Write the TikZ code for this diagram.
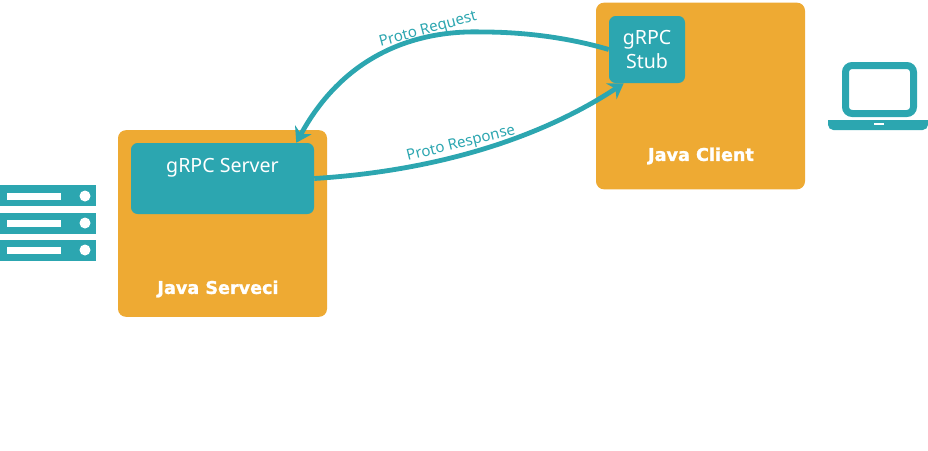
\documentclass[tikz,border=0pt]{standalone}
\usepackage{fontspec}
\setmainfont{Noto Sans}
\newfontfamily\heavyfont{DejaVu Sans Bold}[FakeBold=1.2]
\usetikzlibrary{arrows.meta}
\definecolor{boxorange}{HTML}{EEAA33}
\definecolor{boxteal}{HTML}{2CA6B0}

\begin{document}
\begin{tikzpicture}[x=.75pt,y=-.75pt]
	\tikzstyle{service}=[fill=boxorange,rounded corners=6pt,minimum width=156.75pt,minimum height=140pt,inner sep=0pt];
	\tikzstyle{grpcbox}=[fill=boxteal,rounded corners=5pt,text=white,inner sep=0pt,font=\fontsize{14.7}{18}\selectfont,align=center];
	\tikzstyle{title}=[text=white,font=\heavyfont\fontsize{13.2}{15}\selectfont,inner sep=0pt];
	\tikzstyle{call}=[draw=boxteal,line width=3.6pt,-{Stealth[length=11pt,width=14pt]}];
	\tikzstyle{calltext}=[text=boxteal,font=\fontsize{11.3}{14}\selectfont,inner sep=0pt];
	\tikzstyle{icon}=[fill=boxteal];

	\useasboundingbox (0,0) rectangle (928,450);

	\node[service] (service) at (222.5,223.5) {};
	\node[service] (client)  at (700.5,96)    {};
	\node[grpcbox,minimum width=137.25pt,minimum height=53.25pt] (server) at (222.5,178.5) {};
	\node[grpcbox,minimum width=57pt,minimum height=50.25pt] (stub) at (647,49.5) {gRPC\\Stub};
	\node[text=white,font=\fontsize{14.7}{18}\selectfont,inner sep=0pt] (servertext) at (222.5,168) {gRPC Server};
	\node[title] (servicetext) at (218,289) {Java Serveci};
	\node[title] (clienttext)  at (701,156) {Java Client};

	\draw[call] (stub.west) .. controls (570,38) and (525,32) .. (483,32) .. controls (425,30) and (348,48) .. ([xshift=-13.5pt]server.north east);
	\draw[call] (server.east) .. controls (420,172) and (530,145) .. ([xshift=11.25pt]stub.south west);
	\node[calltext,rotate=15] (requesttext)  at (428,30)  {Proto Request};
	\node[calltext,rotate=14] (responsetext) at (461,144) {Proto Response};

	% server rack
	\fill[icon] (0,185) rectangle (96,206);
	\fill[icon] (0,213) rectangle (96,234);
	\fill[icon] (0,240) rectangle (96,261);
	\fill[white] (7,193) rectangle (61,200);
	\fill[white] (7,220) rectangle (61,227);
	\fill[white] (7,247) rectangle (61,254);
	\fill[white] (85,196) circle (5.5);
	\fill[white] (85,223) circle (5.5);
	\fill[white] (85,250) circle (5.5);

	% laptop
	\draw[boxteal,line width=5.25pt,rounded corners=5pt] (845.5,65.5) rectangle (913.5,113.5);
	\fill[icon,rounded corners=4pt] (828,120) rectangle (928,130);
	\fill[icon] (828,120) rectangle (928,125);
	\fill[white] (874,123) rectangle (884,125);
\end{tikzpicture}
\end{document}
